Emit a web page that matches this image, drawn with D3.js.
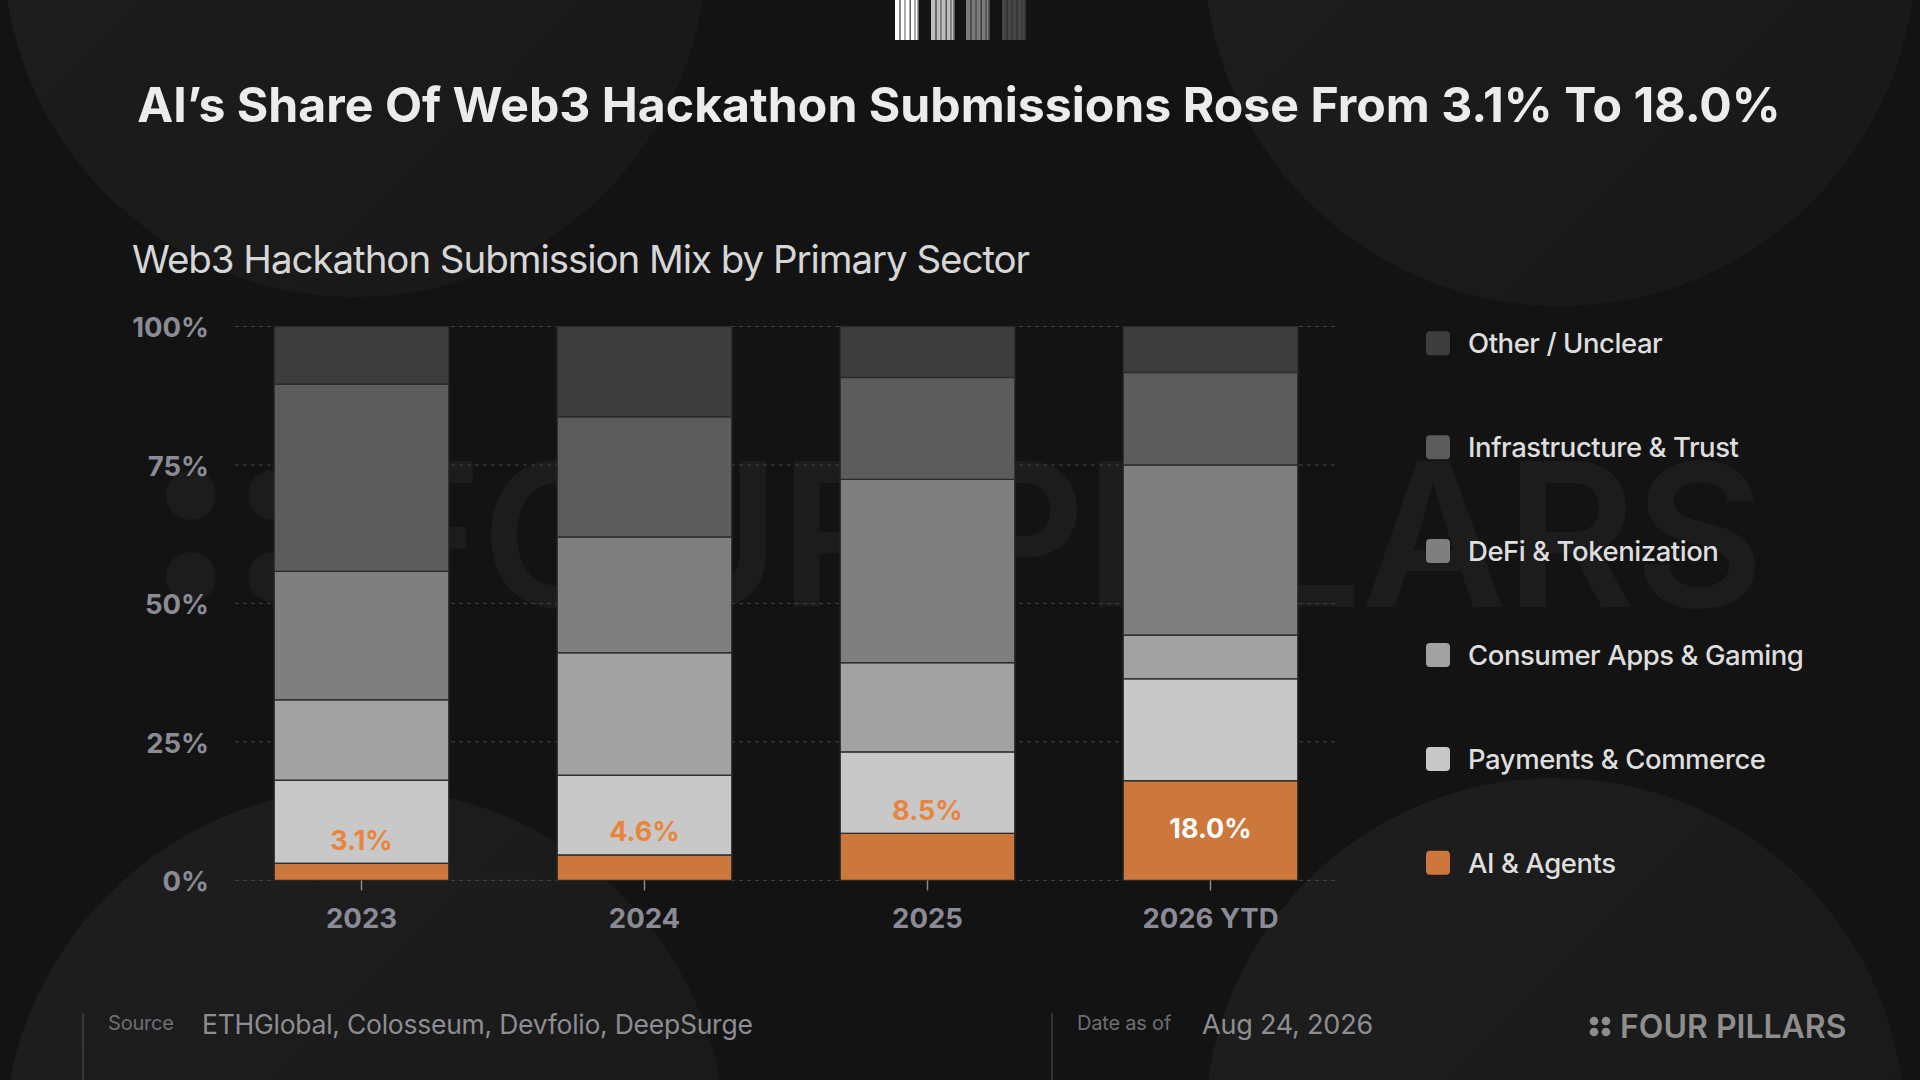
<!DOCTYPE html>
<html>
<head>
<meta charset="utf-8">
<script src="https://cdn.jsdelivr.net/npm/d3@7"></script>
<style>
  html, body { margin: 0; padding: 0; background: #131313; }
  svg { display: block; }
  text { font-family: Inter, "Noto Sans", sans-serif; }
</style>
</head>
<body>
<svg id="chart" width="1920" height="1080"></svg>
<script>
// ---------- DATA ----------
const years = ["2023", "2024", "2025", "2026 YTD"];
const sectors = ["AI & Agents", "Payments & Commerce", "Consumer Apps & Gaming", "DeFi & Tokenization", "Infrastructure & Trust", "Other / Unclear"];
const aiAgents      = [3.1, 4.6, 8.5, 18.0];
const payments      = [15.0, 14.4, 14.7, 18.4];
const consumer      = [14.5, 22.1, 16.1, 7.9];
const defi          = [23.2, 20.9, 33.1, 30.7];
const infra         = [33.8, 21.7, 18.4, 16.7];
const other         = [10.4, 16.3, 9.2, 8.3];
const yTicks = [0, 25, 50, 75, 100];
const sectorColors = ["#cc773b", "#c8c8c8", "#a2a2a2", "#7f7f7f", "#5c5c5c", "#3d3d3d"];

const titleText = "AI\u2019s Share Of Web3 Hackathon Submissions Rose From 3.1% To 18.0%";
const subtitleText = "Web3 Hackathon Submission Mix by Primary Sector";
const sourceText = "ETHGlobal, Colosseum, Devfolio, DeepSurge";
const dateText = "Aug 24, 2026";

// ---------- SETUP ----------
const svg = d3.select("#chart");
const defs = svg.append("defs");

const grad = defs.append("linearGradient").attr("id", "circGrad")
  .attr("x1", "0").attr("y1", "0").attr("x2", "1").attr("y2", "1");
grad.append("stop").attr("offset", "0%").attr("stop-color", "#1e1e1e");
grad.append("stop").attr("offset", "100%").attr("stop-color", "#181818");

svg.append("rect").attr("width", 1920).attr("height", 1080).attr("fill", "#131313");

// decorative background circles
const circles = [[355, -55, 352], [1560, -50, 356], [365, 1150, 362], [1555, 1128, 350]];
svg.append("g").selectAll("circle").data(circles).join("circle")
  .attr("cx", d => d[0]).attr("cy", d => d[1]).attr("r", d => d[2])
  .attr("fill", "url(#circGrad)");

// watermark
const wm = svg.append("g").attr("fill", "#1c1c1c");
[[191, 495], [273, 495], [191, 577], [273, 577]].forEach(p =>
  wm.append("circle").attr("cx", p[0]).attr("cy", p[1]).attr("r", 25));
wm.append("text").attr("x", 365).attr("y", 607)
  .attr("font-size", 200).attr("font-weight", 600).attr("letter-spacing", -1.5)
  .text("FOUR PILLARS");

// barcode logo at top
const barGroups = [
  {x: 895, c: "#ffffff"}, {x: 931, c: "#bdbdbd"}, {x: 966, c: "#7a7a7a"}, {x: 1002, c: "#474747"}
];
const gapOffsets = [4.3, 9.5, 14.5, 19.5, 22.5];
const bc = svg.append("g");
barGroups.forEach(g => {
  bc.append("rect").attr("x", g.x).attr("y", 0).attr("width", 24).attr("height", 40).attr("fill", g.c);
  gapOffsets.forEach((o, i) => bc.append("rect").attr("x", g.x + o).attr("y", 0)
    .attr("width", i % 2 ? 1 : 1.4).attr("height", 40).attr("fill", "#2a2a2a").attr("opacity", 0.8));
});

// titles
svg.append("text").attr("x", 959).attr("y", 122).attr("text-anchor", "middle")
  .attr("font-size", 48.2).attr("font-weight", 700).attr("fill", "#ececec")
  .text(titleText);
svg.append("text").attr("x", 132).attr("y", 273)
  .attr("font-size", 38.5).attr("font-weight", 400).attr("letter-spacing", -1.05).attr("fill", "#d6d6d6")
  .text(subtitleText);

// ---------- SCALES ----------
const x = d3.scaleBand().domain(years).range([235, 1337]).paddingInner(0.383).paddingOuter(0.1385);
const y = d3.scaleLinear().domain([0, 100]).range([880.4, 326.5]);

// gridlines
svg.append("g").selectAll("line").data(yTicks).join("line")
  .attr("x1", 235).attr("x2", 1337)
  .attr("y1", d => y(d)).attr("y2", d => y(d))
  .attr("stroke", "#454545").attr("stroke-width", 1).attr("stroke-dasharray", "4,4");

// y-axis
const yAxis = svg.append("g").attr("transform", "translate(209,0)")
  .call(d3.axisLeft(y).tickValues(yTicks).tickFormat(d => d + "%").tickSize(0).tickPadding(0));
yAxis.select(".domain").remove();
yAxis.selectAll("text").attr("font-size", 27.5).attr("font-weight", 700).attr("fill", "#8b8b95")
  .attr("font-family", "Inter, sans-serif").attr("dy", "0.38em");

// ---------- STACKED BARS ----------
const rows = years.map((yr, i) => ({
  year: yr,
  "AI & Agents": aiAgents[i],
  "Payments & Commerce": payments[i],
  "Consumer Apps & Gaming": consumer[i],
  "DeFi & Tokenization": defi[i],
  "Infrastructure & Trust": infra[i],
  "Other / Unclear": other[i]
}));
const stack = d3.stack().keys(sectors)(rows);
const color = d3.scaleOrdinal().domain(sectors).range(sectorColors);

svg.append("g").selectAll("g").data(stack).join("g")
  .attr("fill", d => color(d.key))
  .selectAll("rect").data(d => d).join("rect")
  .attr("x", d => x(d.data.year))
  .attr("width", x.bandwidth())
  .attr("y", d => y(d[1]))
  .attr("height", d => y(d[0]) - y(d[1]))
  .attr("stroke", "#2a2a2a").attr("stroke-width", 1.3);

// x-axis
const xAxis = svg.append("g").attr("transform", "translate(0,880.4)")
  .call(d3.axisBottom(x).tickSize(10).tickPadding(18));
xAxis.select(".domain").remove();
xAxis.selectAll("line").attr("stroke", "#8a8a8a").attr("stroke-width", 1.5);
xAxis.selectAll("text").attr("font-size", 27.5).attr("font-weight", 700).attr("fill", "#8b8b95")
  .attr("font-family", "Inter, sans-serif");

// AI labels
svg.append("g").selectAll("text").data(years).join("text")
  .attr("x", d => x(d) + x.bandwidth() / 2)
  .attr("y", (d, i) => aiAgents[i] > 12 ? (y(0) + y(aiAgents[i])) / 2 - 2 : y(aiAgents[i]) - 23)
  .attr("text-anchor", "middle").attr("dominant-baseline", "central")
  .attr("font-size", 27).attr("font-weight", 700)
  .attr("fill", (d, i) => aiAgents[i] > 12 ? "#ffffff" : "#e8843c")
  .text((d, i) => aiAgents[i].toFixed(1) + "%");

// ---------- LEGEND ----------
const legendOrder = sectors.slice().reverse();
const lg = svg.append("g").selectAll("g").data(legendOrder).join("g")
  .attr("transform", (d, i) => `translate(1426,${343.3 + i * 103.9})`);
lg.append("rect").attr("x", 0).attr("y", -12).attr("width", 24).attr("height", 24).attr("rx", 4)
  .attr("fill", d => color(d));
lg.append("text").attr("x", 42).attr("y", 0).attr("dominant-baseline", "central")
  .attr("font-size", 27.5).attr("font-weight", 500).attr("letter-spacing", -0.45).attr("fill", "#dedede")
  .text(d => d);

// ---------- FOOTER ----------
const ft = svg.append("g");
ft.append("line").attr("x1", 83).attr("x2", 83).attr("y1", 1013).attr("y2", 1080)
  .attr("stroke", "#4a4a4a").attr("stroke-width", 1.2);
ft.append("text").attr("x", 108).attr("y", 1030).attr("font-size", 20).attr("letter-spacing", -0.2).attr("fill", "#6e6e74").text("Source");
ft.append("text").attr("x", 202).attr("y", 1034).attr("font-size", 26.5).attr("letter-spacing", -0.25).attr("fill", "#8d8d93").text(sourceText);
ft.append("line").attr("x1", 1052).attr("x2", 1052).attr("y1", 1013).attr("y2", 1080)
  .attr("stroke", "#4a4a4a").attr("stroke-width", 1.2);
ft.append("text").attr("x", 1077).attr("y", 1030).attr("font-size", 20).attr("letter-spacing", -0.2).attr("fill", "#6e6e74").text("Date as of");
ft.append("text").attr("x", 1202).attr("y", 1034).attr("font-size", 27).attr("letter-spacing", -0.2).attr("fill", "#8d8d93").text(dateText);
[[1594, 1021], [1606, 1021], [1594, 1032], [1606, 1032]].forEach(p =>
  ft.append("circle").attr("cx", p[0]).attr("cy", p[1]).attr("r", 4.3).attr("fill", "#8e8e8e"));
ft.append("text").attr("x", 1620).attr("y", 1038).attr("font-size", 32).attr("font-weight", 600)
  .attr("letter-spacing", 0).attr("fill", "#8e8e8e").text("FOUR PILLARS");
</script>
</body>
</html>
